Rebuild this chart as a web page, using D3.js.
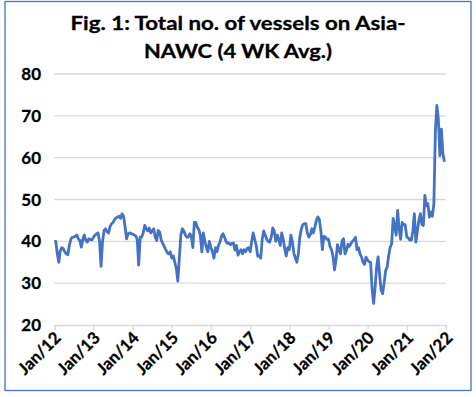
<!DOCTYPE html>
<html>
<head>
<meta charset="utf-8">
<script src="https://cdn.jsdelivr.net/npm/d3@7"></script>
<style>
  body { margin: 0; background: #fff; }
  text { font-family: Lato, "Open Sans", sans-serif; font-weight: bold; }
</style>
</head>
<body>
<svg class="chart"></svg>
<script>
const width = 476;
const height = 397;

// data: 4 wk avg, read about every two weeks, one array per year
const years = [2012, 2013, 2014, 2015, 2016, 2017, 2018, 2019, 2020, 2021];
const vals2012 = [40, 40, 37, 35, 37.8, 38.5, 38.2, 37.5, 37, 36.8, 39, 40.5, 41, 41, 41.2, 41.5, 40.6, 40.2, 38.6, 40.5, 41.5, 40.2, 39.8, 40.6, 40.5, 40.3];
const vals2013 = [41, 41.5, 41.8, 42, 40, 34, 40, 42.6, 43, 42.3, 42, 43.5, 44.2, 44.5, 45.2, 45.6, 45.8, 46, 45.5, 46.6, 46, 43.5, 40.6, 41.8, 42, 41.9];
const vals2014 = [41.7, 41.5, 41.3, 40.5, 34.3, 41, 41, 42, 43.8, 43, 42.5, 43.2, 42, 42.5, 43, 41, 40.2, 42.6, 42.2, 40.3, 39.5, 38.8, 38, 37.3, 37, 37.5];
const vals2015 = [36, 36.5, 35, 33.5, 30.5, 36, 41.5, 43, 42.5, 41.5, 41, 41, 41.8, 41.2, 38.5, 44.5, 44.5, 43.3, 42.8, 41.5, 37.5, 42, 40, 38.7, 37.5, 40];
const vals2016 = [38.5, 37.5, 36, 38.5, 37.5, 39, 39.8, 41.2, 41.8, 41, 40, 39.5, 39.6, 39.2, 39.5, 39.6, 37.9, 39, 36.7, 37.5, 38, 37, 38, 37.5, 38.2, 38.5];
const vals2017 = [37.5, 40, 42, 40.5, 39, 36.5, 36.5, 36, 40.5, 42.5, 41.5, 40.5, 40, 39.8, 41, 43.2, 42.5, 40, 41.5, 40.5, 39, 42, 40.5, 38.2, 36.5, 38.5];
const vals2018 = [38, 41.5, 40, 37.2, 36, 35, 37, 41, 43, 44, 44.2, 44.2, 42, 41, 41.6, 43, 42, 43.4, 45, 45.8, 45.2, 42.5, 38, 41.2, 41, 40.5];
const vals2019 = [40.5, 38.8, 38, 36.5, 33.2, 35.5, 39.2, 38, 37, 40, 40.6, 37, 37.9, 39.3, 38.8, 39.5, 40, 40.4, 41, 38, 38.5, 37, 36.3, 35, 34.5, 36.2];
const vals2020 = [35.5, 35.1, 35, 28.5, 25.2, 29, 33.9, 36.3, 32, 28.3, 27.5, 30, 33, 33.8, 36.5, 38.5, 39.5, 45.5, 43.5, 41.5, 47.4, 43, 40.5, 44.5, 44, 44];
const vals2021 = [41, 40.8, 40.3, 40.3, 42.5, 46.6, 39.8, 42.5, 45, 46.6, 44, 43.8, 51, 48.5, 49, 45.8, 47, 46, 49, 66.5, 72.5, 69, 60.5, 66.8, 61, 59];
const yTicks = [20, 30, 40, 50, 60, 70, 80];
const xTickYears = [2012, 2013, 2014, 2015, 2016, 2017, 2018, 2019, 2020, 2021, 2022];

const yearVals = [vals2012, vals2013, vals2014, vals2015, vals2016, vals2017, vals2018, vals2019, vals2020, vals2021];
const data = [];
years.forEach((yr, k) => {
    yearVals[k].forEach((v, i) => {
        data.push({ date: new Date(yr, 0, 1 + 14 * i), value: v });
    });
});

//svg element
const svg = d3.select('.chart')
    .attr('width', width)
    .attr('height', height);

svg.append('rect')
    .attr('width', width)
    .attr('height', height)
    .attr('fill', '#fff');

// border
svg.append('rect')
    .attr('x', 5)
    .attr('y', 1.5)
    .attr('width', 466)
    .attr('height', 389)
    .attr('fill', 'none')
    .attr('stroke', '#4472C4')
    .attr('stroke-width', 1.3);

// title
const titleLines = ['Fig. 1: Total no. of vessels on Asia-', 'NAWC (4 WK Avg.)'];
const titleWidths = [335, 188];
svg.selectAll('.title')
    .data(titleLines).enter()
    .append('text')
    .attr('class', 'title')
    .attr('text-anchor', 'middle')
    .attr('x', 238)
    .attr('y', (d, i) => 29.5 + i * 28)
    .attr('font-size', 19.5)
    .attr('fill', '#000')
    .attr('stroke', '#000')
    .attr('stroke-width', 0.3)
    .attr('textLength', (d, i) => titleWidths[i])
    .attr('lengthAdjust', 'spacingAndGlyphs')
    .text(d => d);

// scales
const xScale = d3.scaleTime()
    .domain([new Date(2012, 0, 1), new Date(2022, 0, 1)])
    .range([54.3, 446]);

const yScale = d3.scaleLinear()
    .domain([20, 80])
    .range([325, 74]);

// gridlines
svg.append('g')
    .selectAll('line')
    .data(yTicks.slice(1)).enter()
    .append('line')
    .attr('x1', 54.3)
    .attr('x2', 446)
    .attr('y1', d => yScale(d))
    .attr('y2', d => yScale(d))
    .attr('stroke', '#D9D9D9')
    .attr('stroke-width', 1.3);

// yAxis labels
svg.append('g')
    .selectAll('text')
    .data(yTicks).enter()
    .append('text')
    .attr('text-anchor', 'end')
    .attr('x', 41)
    .attr('y', d => yScale(d))
    .attr('dy', '0.36em')
    .attr('font-size', 17)
    .attr('fill', '#000')
    .attr('stroke', '#000')
    .attr('stroke-width', 0.3)
    .text(d => d);

// xAxis
const xAxis = d3.axisBottom(xScale)
    .tickValues(xTickYears.map(y => new Date(y, 0, 1)))
    .tickSize(5)
    .tickFormat(d => 'Jan/' + String(d.getFullYear()).slice(2));

const xg = svg.append('g')
    .attr('transform', `translate(0,${yScale(20)})`)
    .call(xAxis);

xg.select('.domain')
    .attr('stroke', '#D9D9D9')
    .attr('stroke-width', 1.3);

xg.selectAll('.tick line')
    .attr('stroke', '#D9D9D9')
    .attr('stroke-width', 1.3);

xg.selectAll('.tick text')
    .attr('font-size', 16.7)
    .attr('font-family', 'Lato, "Open Sans", sans-serif')
    .attr('font-weight', 'bold')
    .attr('fill', '#000')
    .attr('stroke', '#000')
    .attr('stroke-width', 0.3)
    .attr('text-anchor', 'end')
    .attr('x', 0)
    .attr('y', 0)
    .attr('dy', 0)
    .attr('transform', 'translate(7,14) rotate(-45)');

// line
const line = d3.line()
    .x(d => xScale(d.date))
    .y(d => yScale(d.value));

svg.append('path')
    .datum(data)
    .attr('fill', 'none')
    .attr('stroke', '#4472C4')
    .attr('stroke-width', 2.8)
    .attr('stroke-linejoin', 'round')
    .attr('d', line);
</script>
</body>
</html>
